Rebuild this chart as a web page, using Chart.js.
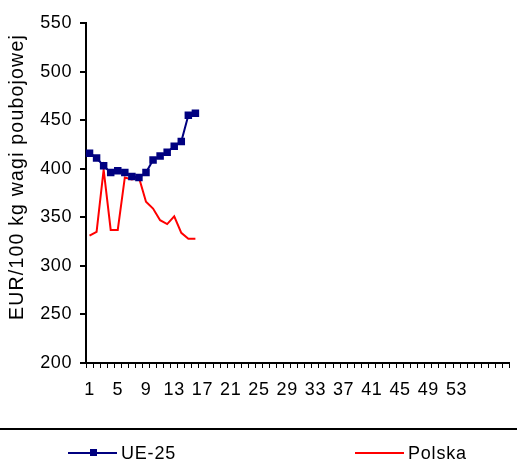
<!DOCTYPE html>
<html>
<head>
<meta charset="utf-8">
<script src="https://cdn.jsdelivr.net/npm/chart.js@4/dist/chart.umd.min.js"></script>
<style>
	html, body { margin: 0; padding: 0; background: #fff; }
	#wrap { width: 517px; height: 476px; }
</style>
</head>
<body>
<div id="wrap"><canvas id="chart"></canvas></div>
<script>
(function () {
	'use strict';

	// weeks of the year on the x axis
	const weeks = Array.from({ length: 60 }, function (_, i) { return String(i + 1); });
	const lastWeek = 53;

	// prices, EUR/100 kg carcass weight
	const ue25 = [416, 411, 403, 396, 398, 396, 392, 391, 396, 409, 413, 417, 423, 428, 455, 457];
	const polska = [331, 335, 399, 337, 337, 391, 389, 391, 366, 359, 347, 343, 351, 334, 328, 328];

	const yMin = 200;
	const yMax = 550;
	const yStep = 50;

	const yTitle = 'EUR/100 kg wagi poubojowej';
	const fontFamily = "'Liberation Sans', Arial, sans-serif";
	const spacing = '0.6px';

	// slightly wide text spacing for the tick labels
	const letterSpacing = {
		id: 'letterSpacing',
		beforeUpdate(chart) { chart.ctx.letterSpacing = spacing; },
		beforeDraw(chart) { chart.ctx.letterSpacing = spacing; }
	};

	// axis title, separator rule and legend below the plot
	const extras = {
		id: 'extras',
		afterDraw(chart) {
			const ctx = chart.ctx;
			ctx.save();
			ctx.fillStyle = '#000';

			ctx.save();
			ctx.letterSpacing = '1.2px';
			ctx.translate(18, 177);
			ctx.rotate(-Math.PI / 2);
			ctx.font = '19.5px ' + fontFamily;
			ctx.textAlign = 'center';
			ctx.textBaseline = 'middle';
			ctx.fillText(yTitle, 0, 0);
			ctx.restore();

			ctx.strokeStyle = '#000';
			ctx.lineWidth = 2;
			ctx.beginPath();
			ctx.moveTo(0, 429);
			ctx.lineTo(chart.width, 429);
			ctx.stroke();

			const legendY = 453;
			const starts = [68, 355];
			ctx.letterSpacing = '0.8px';
			ctx.font = '18px ' + fontFamily;
			ctx.textAlign = 'left';
			ctx.textBaseline = 'middle';
			chart.data.datasets.forEach(function (ds, i) {
				const x = starts[i];
				ctx.strokeStyle = ds.borderColor;
				ctx.lineWidth = 2;
				ctx.beginPath();
				ctx.moveTo(x, legendY);
				ctx.lineTo(x + 49, legendY);
				ctx.stroke();
				if (ds.pointRadius > 0) {
					ctx.fillStyle = ds.pointBackgroundColor;
					ctx.fillRect(x + 22, legendY - 4, 7, 7);
				}
				ctx.fillStyle = '#000';
				ctx.fillText(ds.label, x + 53, legendY + 1);
			});
			ctx.restore();
		}
	};

	new Chart(document.getElementById('chart'), {
		type: 'line',
		data: {
			labels: weeks,
			datasets: [
				{
					label: 'UE-25',
					data: ue25,
					borderColor: '#000080',
					backgroundColor: '#000080',
					pointBackgroundColor: '#000080',
					pointBorderColor: '#000080',
					borderWidth: 2,
					pointStyle: 'rect',
					pointRadius: 5.3,
					pointBorderWidth: 0,
					tension: 0,
					order: 1
				},
				{
					label: 'Polska',
					data: polska,
					borderColor: '#ff0000',
					backgroundColor: '#ff0000',
					borderWidth: 2,
					pointRadius: 0,
					tension: 0,
					order: 2
				}
			]
		},
		options: {
			responsive: true,
			maintainAspectRatio: false,
			animation: false,
			devicePixelRatio: 1,
			layout: {
				padding: { top: 23, right: 0, bottom: 0, left: 0 }
			},
			plugins: {
				legend: { display: false },
				tooltip: { enabled: false }
			},
			scales: {
				x: {
					type: 'category',
					offset: true,
					afterFit: function (scale) { scale.height = 113; },
					border: { color: '#000', width: 2 },
					grid: {
						display: true,
						offset: true,
						drawOnChartArea: false,
						drawTicks: true,
						tickLength: 5,
						color: '#000',
						lineWidth: 1
					},
					ticks: {
						autoSkip: false,
						maxRotation: 0,
						minRotation: 0,
						padding: 11,
						color: '#000',
						font: { family: fontFamily, size: 18 },
						callback: function (value, index) {
							return index % 4 === 0 && index < lastWeek ? weeks[index] : '';
						}
					}
				},
				y: {
					min: yMin,
					max: yMax,
					afterFit: function (scale) { scale.width = 86; },
					border: { color: '#000', width: 2 },
					grid: {
						display: true,
						drawOnChartArea: false,
						drawTicks: true,
						tickLength: 6,
						color: '#000',
						lineWidth: 2
					},
					ticks: {
						stepSize: yStep,
						padding: 8,
						color: '#000',
						font: { family: fontFamily, size: 18 }
					}
				}
			}
		},
		plugins: [letterSpacing, extras]
	});
})();
</script>
</body>
</html>
